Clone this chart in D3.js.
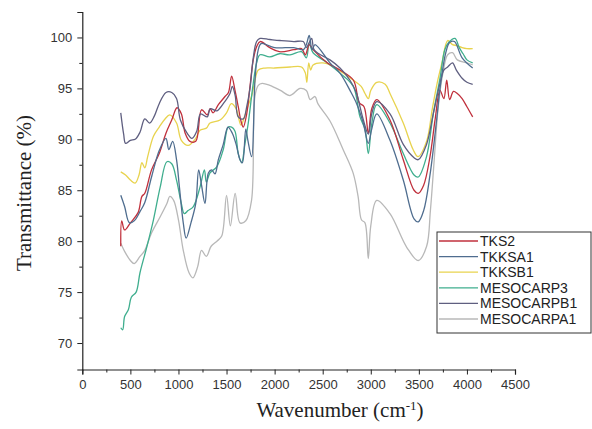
<!DOCTYPE html>
<html>
<head>
<meta charset="utf-8">
<script src="https://cdn.jsdelivr.net/npm/d3@7"></script>
<style>
  body { margin: 0; background: #fff; }
  svg { display: block; }
</style>
</head>
<body>
<div id="chart"></div>
<script>
// series names, in legend order
const seriesNames = ["TKS2", "TKKSA1", "TKKSB1", "MESOCARP3", "MESOCARPB1", "MESOCARPA1"];
const seriesColors = ["#c0303c", "#4f6d8f", "#e8d34e", "#3fae8e", "#5f5f80", "#b8b8b8"];

const xTicks = [0, 500, 1000, 1500, 2000, 2500, 3000, 3500, 4000, 4500];
const yTicks = [70, 75, 80, 85, 90, 95, 100];

// [wavenumber, transmittance]
const tks2 = [[400,79.5],[410,82.0],[440,81.1],[500,81.8],[580,82.8],[620,84.4],[650,84.7],[720,87.0],[800,88.6],[870,90.6],[930,91.9],[985,93.1],[1030,92.5],[1070,90.6],[1120,89.8],[1180,89.8],[1240,92.9],[1300,92.4],[1330,93.0],[1360,92.6],[1415,93.4],[1484,94.2],[1520,94.6],[1553,96.2],[1588,94.8],[1622,93.2],[1650,91.8],[1674,91.2],[1710,92.5],[1744,95.2],[1778,97.8],[1813,99.1],[1850,99.6],[1950,99.0],[2050,98.6],[2200,98.8],[2280,98.9],[2320,98.3],[2360,99.3],[2400,98.8],[2550,97.5],[2680,96.8],[2820,95.8],[2880,93.6],[2930,93.2],[2975,90.6],[3010,93.0],[3062,93.9],[3200,91.9],[3338,88.0],[3450,85.0],[3494,84.7],[3550,85.5],[3616,88.3],[3670,92.0],[3720,94.8],[3760,94.0],[3790,95.8],[3820,93.9],[3860,94.7],[3900,94.5],[3950,94.0],[4000,93.2],[4060,92.2]];

const tkksa1 = [[400,84.5],[440,83.4],[490,81.8],[540,82.0],[600,82.9],[650,83.8],[720,86.3],[800,88.9],[870,90.1],[900,89.0],[940,89.8],[980,88.0],[1010,85.3],[1050,81.8],[1080,80.3],[1130,81.8],[1180,83.7],[1210,87.0],[1240,85.5],[1276,83.7],[1311,86.7],[1345,87.0],[1380,86.6],[1415,88.0],[1466,89.5],[1515,91.2],[1560,90.6],[1600,89.5],[1640,88.0],[1665,87.7],[1700,91.0],[1720,90.0],[1761,88.3],[1796,95.8],[1830,98.8],[1860,99.4],[2000,99.0],[2200,99.0],[2300,98.8],[2330,99.3],[2360,100.2],[2390,98.8],[2420,99.3],[2576,97.5],[2680,96.5],[2784,94.8],[2853,93.5],[2922,91.6],[2974,89.6],[3010,91.0],[3062,92.5],[3200,89.9],[3338,86.0],[3450,82.2],[3494,81.9],[3550,83.0],[3616,86.5],[3686,92.0],[3720,95.0],[3780,98.5],[3820,99.5],[3870,99.6],[3950,98.0],[4060,97.0]];

const tkksb1 = [[400,86.8],[450,86.5],[500,86.0],[550,85.7],[590,86.5],[620,87.7],[650,87.2],[680,88.3],[740,90.3],[800,91.2],[860,92.0],[910,92.4],[980,91.6],[1030,89.9],[1100,89.4],[1180,90.1],[1224,90.9],[1290,91.1],[1328,91.6],[1432,91.9],[1500,92.6],[1550,93.5],[1600,93.0],[1650,91.4],[1690,92.3],[1720,93.2],[1760,94.2],[1790,95.5],[1830,96.8],[1900,97.0],[2000,97.0],[2160,97.1],[2280,97.1],[2320,96.5],[2335,95.6],[2355,97.5],[2375,96.8],[2400,97.3],[2500,97.5],[2600,97.2],[2700,96.6],[2820,95.8],[2900,95.2],[2940,94.5],[2975,94.0],[3000,94.8],[3062,95.6],[3150,95.4],[3200,94.5],[3338,91.6],[3440,89.0],[3490,88.3],[3580,89.8],[3640,93.0],[3690,95.5],[3740,97.5],[3800,99.7],[3850,99.3],[3900,99.2],[3950,99.0],[4000,98.9],[4060,98.9]];

const mesocarp3 = [[400,71.5],[420,71.3],[440,72.6],[480,73.3],[510,74.5],[560,75.0],[600,76.9],[670,79.4],[740,82.1],[810,85.3],[880,87.8],[930,87.6],[980,86.0],[1030,83.7],[1060,82.7],[1100,83.0],[1155,83.4],[1224,85.3],[1270,87.0],[1290,85.8],[1328,86.7],[1398,87.3],[1466,89.0],[1518,91.2],[1553,91.2],[1588,90.8],[1622,88.6],[1657,87.7],[1692,89.6],[1726,91.6],[1778,95.5],[1813,97.5],[1848,98.3],[1950,98.1],[2050,98.4],[2160,98.3],[2280,98.6],[2330,98.0],[2360,99.4],[2400,98.5],[2550,97.5],[2680,96.5],[2818,95.2],[2888,92.2],[2940,91.0],[2975,88.6],[3010,91.5],[3062,93.4],[3200,91.6],[3338,88.6],[3450,86.5],[3494,86.3],[3580,88.3],[3650,92.5],[3720,96.0],[3770,98.8],[3810,99.5],[3876,99.9],[3920,99.0],[3960,98.4],[4000,97.8],[4060,97.5]];

const mesocarpb1 = [[400,92.6],[430,90.5],[450,89.6],[500,89.9],[550,90.0],[600,90.7],[650,92.0],[700,91.6],[750,92.3],[800,93.5],[870,94.6],[930,94.6],[980,94.0],[1020,91.9],[1090,90.6],[1140,90.1],[1190,90.8],[1230,92.5],[1300,92.2],[1330,93.0],[1400,92.8],[1466,93.5],[1536,94.5],[1560,95.2],[1590,94.3],[1622,92.2],[1674,92.0],[1710,93.2],[1744,95.0],[1778,98.0],[1813,99.6],[1848,99.9],[1950,99.8],[2056,99.7],[2200,99.6],[2298,99.6],[2330,99.0],[2360,99.5],[2385,99.9],[2410,98.8],[2460,98.4],[2576,97.8],[2680,97.0],[2784,95.8],[2853,94.5],[2888,93.2],[2920,92.0],[2975,90.5],[3010,92.5],[3062,93.7],[3200,92.5],[3338,89.5],[3450,88.2],[3494,88.0],[3580,89.5],[3650,92.5],[3720,95.5],[3760,96.8],[3800,97.1],[3850,97.5],[3890,96.8],[3950,96.0],[4000,95.6],[4060,95.4]];

const mesocarpa1 = [[400,79.8],[440,79.0],[500,78.1],[540,77.8],[600,78.5],[650,79.1],[720,80.8],[810,82.4],[880,83.7],[910,84.4],[950,84.0],[1000,82.1],[1050,79.1],[1110,76.9],[1150,76.4],[1200,77.5],[1240,79.1],[1290,78.5],[1340,79.5],[1400,80.0],[1450,80.5],[1500,84.5],[1540,81.5],[1590,84.7],[1640,81.8],[1700,82.0],[1760,84.0],[1795,94.2],[1830,95.3],[1870,95.5],[1950,95.3],[2060,94.8],[2160,94.3],[2264,95.0],[2330,94.8],[2370,93.9],[2420,94.2],[2450,93.5],[2576,91.8],[2712,89.0],[2816,86.7],[2868,84.4],[2903,82.1],[2940,81.8],[2974,78.3],[3000,81.5],[3062,84.0],[3200,82.7],[3374,79.4],[3494,78.1],[3581,79.5],[3620,83.0],[3660,88.0],[3700,93.0],[3750,96.5],[3800,98.3],[3850,98.5],[3900,97.8],[4000,97.5],[4060,97.3]];

const seriesValues = [tks2, tkksa1, tkksb1, mesocarp3, mesocarpb1, mesocarpa1];

const width = 592, height = 429;
const svg = d3.select("#chart").append("svg")
    .attr("width", width)
    .attr("height", height);

const x = d3.scaleLinear().domain([0, 4500]).range([82.3, 515]);
const y = d3.scaleLinear().domain([67.4, 102.5]).range([369.5, 12]);

// x axis, major + minor ticks
const xAxisG = svg.append("g").attr("transform", "translate(0," + y(67.4) + ")");
xAxisG.call(d3.axisBottom(x).tickValues(xTicks).tickSize(5).tickPadding(5).tickFormat(d3.format("d")));
xAxisG.append("g").call(d3.axisBottom(x).tickValues(d3.range(250, 4500, 500)).tickSize(3).tickFormat(""))
    .select(".domain").remove();

// y axis
const yAxisG = svg.append("g").attr("transform", "translate(" + x(0) + ",0)");
yAxisG.call(d3.axisLeft(y).tickValues(yTicks).tickSize(5).tickPadding(5).tickFormat(d3.format("d")));
yAxisG.append("g").call(d3.axisLeft(y).tickValues(d3.range(72.5, 102.5, 5)).tickSize(3).tickFormat(""))
    .select(".domain").remove();

svg.selectAll(".domain").attr("stroke", "#222").attr("stroke-width", 1.2);
svg.selectAll(".tick line").attr("stroke", "#222");
svg.selectAll(".tick text")
    .style("font-family", "'Liberation Sans', Arial, sans-serif")
    .style("font-size", "13px")
    .attr("fill", "#333");

const line = d3.line()
    .x(d => x(d[0]))
    .y(d => y(d[1]))
    .curve(d3.curveCatmullRom.alpha(0.5));

const data = seriesNames.map((name, i) => ({name: name, color: seriesColors[i], values: seriesValues[i]}));

// draw light ones first so dark lines sit on top
const drawOrder = [5, 2, 3, 0, 4, 1];
svg.append("g").selectAll("path")
    .data(drawOrder.map(i => data[i]))
    .join("path")
    .attr("d", d => line(d.values))
    .attr("fill", "none")
    .attr("stroke", d => d.color)
    .attr("stroke-width", 1.3)
    .attr("stroke-linejoin", "round");

// axis titles
svg.append("text")
    .attr("transform", "translate(31,193) rotate(-90)")
    .attr("text-anchor", "middle")
    .style("font-family", "'Liberation Serif', 'Times New Roman', serif")
    .style("font-size", "21px")
    .attr("fill", "#222")
    .text("Transmittance (%)");

const xt = svg.append("text")
    .attr("x", 340)
    .attr("y", 417)
    .attr("text-anchor", "middle")
    .style("font-family", "'Liberation Serif', 'Times New Roman', serif")
    .style("font-size", "21px")
    .attr("fill", "#222");
xt.append("tspan").text("Wavenumber (cm");
xt.append("tspan").attr("dy", -7).style("font-size", "13px").text("-1");
xt.append("tspan").attr("dy", 7).text(")");

// legend
const legend = svg.append("g").attr("transform", "translate(437,232)");
legend.append("rect")
    .attr("width", 154)
    .attr("height", 101)
    .attr("fill", "#fff")
    .attr("stroke", "#333")
    .attr("stroke-width", 1);

const rows = legend.selectAll("g.row")
    .data(data)
    .join("g")
    .attr("class", "row")
    .attr("transform", (d, i) => "translate(0," + (9 + i * 15.6) + ")");
rows.append("line")
    .attr("x1", 2).attr("x2", 41)
    .attr("stroke", d => d.color)
    .attr("stroke-width", 1.3);
rows.append("text")
    .attr("x", 43)
    .attr("dy", "0.35em")
    .style("font-family", "'Liberation Sans', Arial, sans-serif")
    .style("font-size", "14px")
    .attr("fill", "#222")
    .text(d => d.name);
</script>
</body>
</html>
